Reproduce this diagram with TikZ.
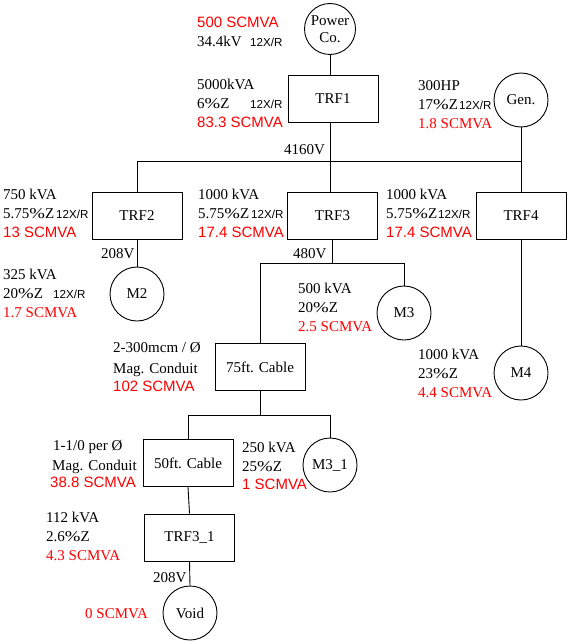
\documentclass[tikz,border=0pt]{standalone}
\usepackage{fontspec}
\usepackage{graphicx}
\setmainfont{Liberation Serif}
\setsansfont{Liberation Sans}
\newcommand\xr{{\sffamily\fontsize{11.6}{14}\selectfont 12X/R}}
\newcommand\xrat[2]{\makebox[#1pt][l]{#2}\xr}
\newcommand\rs[1]{\textcolor{red}{\sffamily #1}}
\newcommand\rr[1]{\textcolor{red}{\rmfamily #1}}
\newcommand\pct{\scalebox{1.25}[1]{\%}}
\begin{document}
\begin{tikzpicture}[x=1pt,y=-1pt,
  every node/.style={font=\rmfamily\fontsize{15}{19}\selectfont},
  lbl/.style={anchor=base west,inner sep=0pt},
  box/.style={draw,line width=0.9pt,minimum width=90pt,minimum height=47pt,inner sep=0pt},
  circ/.style={draw,circle,line width=0.9pt,minimum size=54pt,inner sep=0pt,align=center},
  wire/.style={line width=0.9pt}]
\useasboundingbox (0,0) rectangle (572,642);
% equipment
\node[circ,minimum size=51pt] (pc) at (330,29) {Power\\[-2pt]Co.};
\node[box] (trf1) at (333,98.5) {TRF1};
\node[circ] (gen) at (521,100) {Gen.};
\node[box] (trf2) at (137,216) {TRF2};
\node[box] (trf3) at (332.5,216) {TRF3};
\node[box] (trf4) at (521,216) {TRF4};
\node[circ] (m2) at (137,294) {M2};
\node[circ] (m3) at (404,313) {M3};
\node[circ] (m4) at (521,373) {M4};
\node[box] (cab75) at (260,367) {75ft. Cable};
\node[box] (cab50) at (188,463) {50ft. Cable};
\node[circ] (m31) at (330,465) {M3\_1};
\node[box] (trf31) at (189.5,537.5) {TRF3\_1};
\node[circ] (void) at (190,613) {Void};
% buses
\coordinate (busL) at (137,161);
\coordinate (busR) at (521,161);
\coordinate (b480) at (332,263);
\coordinate (b415) at (260,415);
% connectors
\draw[wire] (pc.south) -- (pc.south |- trf1.north);
\draw[wire] (trf1.south -| pc.south) -- (pc.south |- trf3.north);
\draw[wire] (busL) -- (busR);
\draw[wire] (trf2.north) -- (trf2.north |- busL);
\draw[wire] (gen.south) -- (trf4.north);
\draw[wire] (trf2.south) -- (m2.north);
\draw[wire] (trf3.south) -- (trf3.south |- b480);
\draw[wire] (cab75.north) |- (m3.north |- b480) -- (m3.north);
\draw[wire] (trf4.south) -- (m4.north);
\draw[wire] (cab75.south) -- (cab75.south |- b415);
\draw[wire] (cab50.north) |- (m31.north |- b415) -- (m31.north);
\draw[wire] (cab50.south) -- (trf31.north);
\draw[wire] (trf31.south) -- (void.north);
% labels
\node[lbl] (l1) at (197,28) {\rs{500 SCMVA}};
\node[lbl] (l2) at (197,47) {\xrat{53}{34.4kV}};
\node[lbl] (l3) at (197,89) {5000kVA};
\node[lbl] (l4) at (197,108) {\xrat{53}{6\pct Z}};
\node[lbl] (l5) at (197,127) {\rs{83.3 SCMVA}};
\node[lbl] (l6) at (284,154) {4160V};
\node[lbl] (l7) at (418,90) {300HP};
\node[lbl] (l8) at (418,109) {\xrat{41}{17\pct Z}};
\node[lbl] (l9) at (418,128) {\rr{1.8 SCMVA}};
\node[lbl] (l10) at (3,199) {750 kVA};
\node[lbl] (l11) at (3,218) {\xrat{53}{5.75\pct Z}};
\node[lbl] (l12) at (3,237) {\rs{13 SCMVA}};
\node[lbl] (l13) at (101,258) {208V};
\node[lbl] (l14) at (3,279) {325 kVA};
\node[lbl] (l15) at (3,298) {\xrat{50}{20\pct Z}};
\node[lbl] (l16) at (3,317) {\rr{1.7 SCMVA}};
\node[lbl] (l17) at (198,199) {1000 kVA};
\node[lbl] (l18) at (198,218) {\xrat{53}{5.75\pct Z}};
\node[lbl] (l19) at (198,237) {\rs{17.4 SCMVA}};
\node[lbl] (l20) at (293,258) {480V};
\node[lbl] (l21) at (386,199) {1000 kVA};
\node[lbl] (l22) at (386,218) {\xrat{52}{5.75\pct Z}};
\node[lbl] (l23) at (386,237) {\rs{17.4 SCMVA}};
\node[lbl] (l24) at (298,293) {500 kVA};
\node[lbl] (l25) at (298,312) {20\pct Z};
\node[lbl] (l26) at (298,331) {\rr{2.5 SCMVA}};
\node[lbl] (l27) at (418,359) {1000 kVA};
\node[lbl] (l28) at (418,378) {23\pct Z};
\node[lbl] (l29) at (418,397) {\rr{4.4 SCMVA}};
\node[lbl] (l30) at (113,352) {2-300mcm / Ø};
\node[lbl] (l31) at (113,373) {Mag. Conduit};
\node[lbl] (l32) at (113,391) {\rs{102 SCMVA}};
\node[lbl] (l33) at (53,450) {1-1/0 per Ø};
\node[lbl] (l34) at (52,470) {Mag. Conduit};
\node[lbl] (l35) at (50,487) {\rs{38.8 SCMVA}};
\node[lbl] (l36) at (242,452) {250 kVA};
\node[lbl] (l37) at (242,471) {25\pct Z};
\node[lbl] (l38) at (242,489) {\rs{1 SCMVA}};
\node[lbl] (l39) at (46,522) {112 kVA};
\node[lbl] (l40) at (46,541) {2.6\pct Z};
\node[lbl] (l41) at (46,560) {\rr{4.3 SCMVA}};
\node[lbl] (l42) at (153,582) {208V};
\node[lbl] (l43) at (85,618) {\rr{0 SCMVA}};
\end{tikzpicture}
\end{document}
